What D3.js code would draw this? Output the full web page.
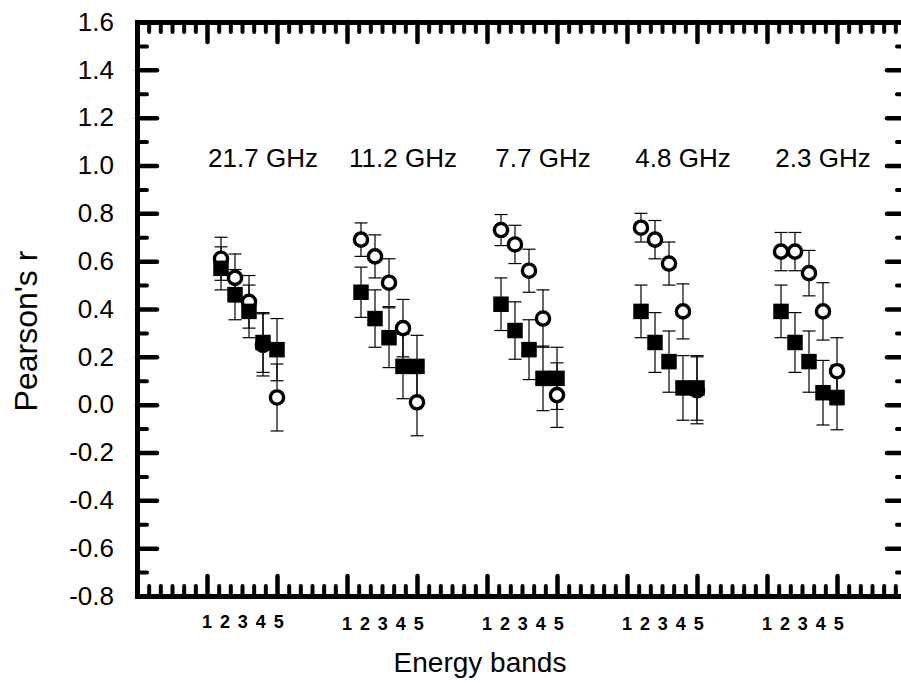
<!DOCTYPE html>
<html>
<head>
<meta charset="utf-8">
<script src="https://cdn.jsdelivr.net/npm/d3@7"></script>
<style>
  html, body { margin: 0; padding: 0; background: #fff; }
  svg { display: block; }
  text { font-family: "Liberation Sans", Arial, Helvetica, sans-serif; fill: #000; }
</style>
</head>
<body>
<svg id="chart" width="901" height="683"></svg>
<script>
// Frequency groups along the x axis
const freqLabels = ["21.7 GHz", "11.2 GHz", "7.7 GHz", "4.8 GHz", "2.3 GHz"];
// Energy band numbers within each group
const bandLabels = ["1", "2", "3", "4", "5"];
// Y tick labels
const yTickLabels = ["-0.8", "-0.6", "-0.4", "-0.2", "0.0", "0.2", "0.4", "0.6", "0.8", "1.0", "1.2", "1.4", "1.6"];

// Open circles: Pearson's r per band, one row per frequency
const openR = [
  [0.61, 0.53, 0.43, 0.25, 0.03],
  [0.69, 0.62, 0.51, 0.32, 0.01],
  [0.73, 0.67, 0.56, 0.36, 0.04],
  [0.74, 0.69, 0.59, 0.39, 0.06],
  [0.64, 0.64, 0.55, 0.39, 0.14]
];
const openErr = [
  [0.09, 0.10, 0.11, 0.13, 0.14],
  [0.07, 0.09, 0.10, 0.12, 0.14],
  [0.065, 0.08, 0.09, 0.12, 0.135],
  [0.06, 0.08, 0.09, 0.115, 0.14],
  [0.08, 0.08, 0.095, 0.12, 0.14]
];
// Filled squares
const filledR = [
  [0.57, 0.46, 0.39, 0.26, 0.23],
  [0.47, 0.36, 0.28, 0.16, 0.16],
  [0.42, 0.31, 0.23, 0.11, 0.11],
  [0.39, 0.26, 0.18, 0.07, 0.07],
  [0.39, 0.26, 0.18, 0.05, 0.03]
];
const filledErr = [
  [0.09, 0.105, 0.11, 0.125, 0.13],
  [0.105, 0.12, 0.125, 0.135, 0.13],
  [0.11, 0.12, 0.125, 0.135, 0.13],
  [0.11, 0.125, 0.128, 0.135, 0.135],
  [0.11, 0.125, 0.128, 0.135, 0.135]
];

const svg = d3.select("#chart");
const plotLeft = 137, plotRight = 907, plotTop = 22, plotBottom = 596;

const x = d3.scaleLinear().domain([0, 11]).range([plotLeft, plotRight]);
const y = d3.scaleLinear().domain([-0.8, 1.6]).range([plotBottom, plotTop]);

// group g starts at 1 + 2g on the x scale; bands are spaced 0.2 apart
const groupStart = g => 1 + 2 * g;
const pointX = (g, b) => groupStart(g) + 0.2 * (b + 1);

// ---- axes ----
const xMajor = d3.range(0, 12);
const xMinor = d3.range(0, 67).filter(i => i % 6 !== 0).map(i => i / 6);
const yMajor = yTickLabels.map(Number);
const yMinor = d3.range(-7, 16, 2).map(i => i / 10);

function styleAxis(sel, width) {
  sel.select(".domain").attr("stroke", "#000").attr("stroke-width", 5).attr("stroke-linecap", "square");
  sel.selectAll(".tick line").attr("stroke", "#000").attr("stroke-width", width).attr("stroke-linecap", "round");
}

function addAxis(axisFn, scale, transform, major, minor, withLabels) {
  const gMin = svg.append("g").attr("transform", transform)
    .call(axisFn(scale).tickValues(minor).tickSize(-10).tickSizeOuter(0).tickFormat(""));
  styleAxis(gMin, 4);
  const gMaj = svg.append("g").attr("transform", transform)
    .call(withLabels
      ? axisFn(scale).tickValues(major).tickSize(-20).tickSizeOuter(0).tickPadding(23).tickFormat((d, i) => yTickLabels[i])
      : axisFn(scale).tickValues(major).tickSize(-20).tickSizeOuter(0).tickFormat(""));
  styleAxis(gMaj, 4.5);
  return gMaj;
}

addAxis(d3.axisBottom, x, `translate(0,${plotBottom})`, xMajor, xMinor, false);
addAxis(d3.axisTop, x, `translate(0,${plotTop})`, xMajor, xMinor, false);
addAxis(d3.axisRight, y, `translate(${plotRight},0)`, yMajor, yMinor, false);
const yAxisG = addAxis(d3.axisLeft, y, `translate(${plotLeft},0)`, yMajor, yMinor, true);
yAxisG.selectAll(".tick text")
  .attr("font-size", 26)
  .attr("font-family", "'Liberation Sans', Arial, sans-serif")
  .attr("fill", "#000");

// ---- data marks ----
const pts = [];
freqLabels.forEach((f, g) => {
  bandLabels.forEach((bl, b) => {
    pts.push({ g, b, kind: "open", r: openR[g][b], e: openErr[g][b] });
    pts.push({ g, b, kind: "filled", r: filledR[g][b], e: filledErr[g][b] });
  });
});

const capHalf = 6.5;
const bars = svg.append("g").attr("stroke", "#000").attr("stroke-width", 1.2);
pts.forEach(p => {
  const cx = x(pointX(p.g, p.b));
  bars.append("line").attr("x1", cx).attr("x2", cx).attr("y1", y(p.r + p.e)).attr("y2", y(p.r - p.e));
  bars.append("line").attr("x1", cx - capHalf).attr("x2", cx + capHalf).attr("y1", y(p.r + p.e)).attr("y2", y(p.r + p.e));
  bars.append("line").attr("x1", cx - capHalf).attr("x2", cx + capHalf).attr("y1", y(p.r - p.e)).attr("y2", y(p.r - p.e));
});

svg.append("g").selectAll("circle")
  .data(pts.filter(p => p.kind === "open"))
  .join("circle")
  .attr("cx", p => x(pointX(p.g, p.b)))
  .attr("cy", p => y(p.r))
  .attr("r", 6.6)
  .attr("fill", "#fff")
  .attr("stroke", "#000")
  .attr("stroke-width", 3.4);

const sq = 15.5;
svg.append("g").selectAll("rect")
  .data(pts.filter(p => p.kind === "filled"))
  .join("rect")
  .attr("x", p => x(pointX(p.g, p.b)) - sq / 2)
  .attr("y", p => y(p.r) - sq / 2)
  .attr("width", sq)
  .attr("height", sq)
  .attr("fill", "#000");

// ---- frequency titles ----
svg.append("g").selectAll("text")
  .data(freqLabels)
  .join("text")
  .attr("x", (d, g) => x(groupStart(g) + 0.8))
  .attr("y", 167)
  .attr("text-anchor", "middle")
  .attr("font-size", 26)
  .text(d => d);

// ---- band numbers below the axis ----
const bandG = svg.append("g");
freqLabels.forEach((f, g) => {
  bandLabels.forEach((bl, b) => {
    bandG.append("text")
      .attr("x", x(groupStart(g) + 0.256 * b))
      .attr("y", g === 0 ? 628 : 630)
      .attr("text-anchor", "middle")
      .attr("font-size", 18)
      .attr("font-weight", "bold")
      .text(bl);
  });
});

// ---- axis titles ----
svg.append("text")
  .attr("x", 480)
  .attr("y", 672)
  .attr("text-anchor", "middle")
  .attr("font-size", 28)
  .text("Energy bands");

svg.append("text")
  .attr("transform", "translate(37,331) rotate(-90)")
  .attr("text-anchor", "middle")
  .attr("font-size", 32)
  .text("Pearson's r");
</script>
</body>
</html>
